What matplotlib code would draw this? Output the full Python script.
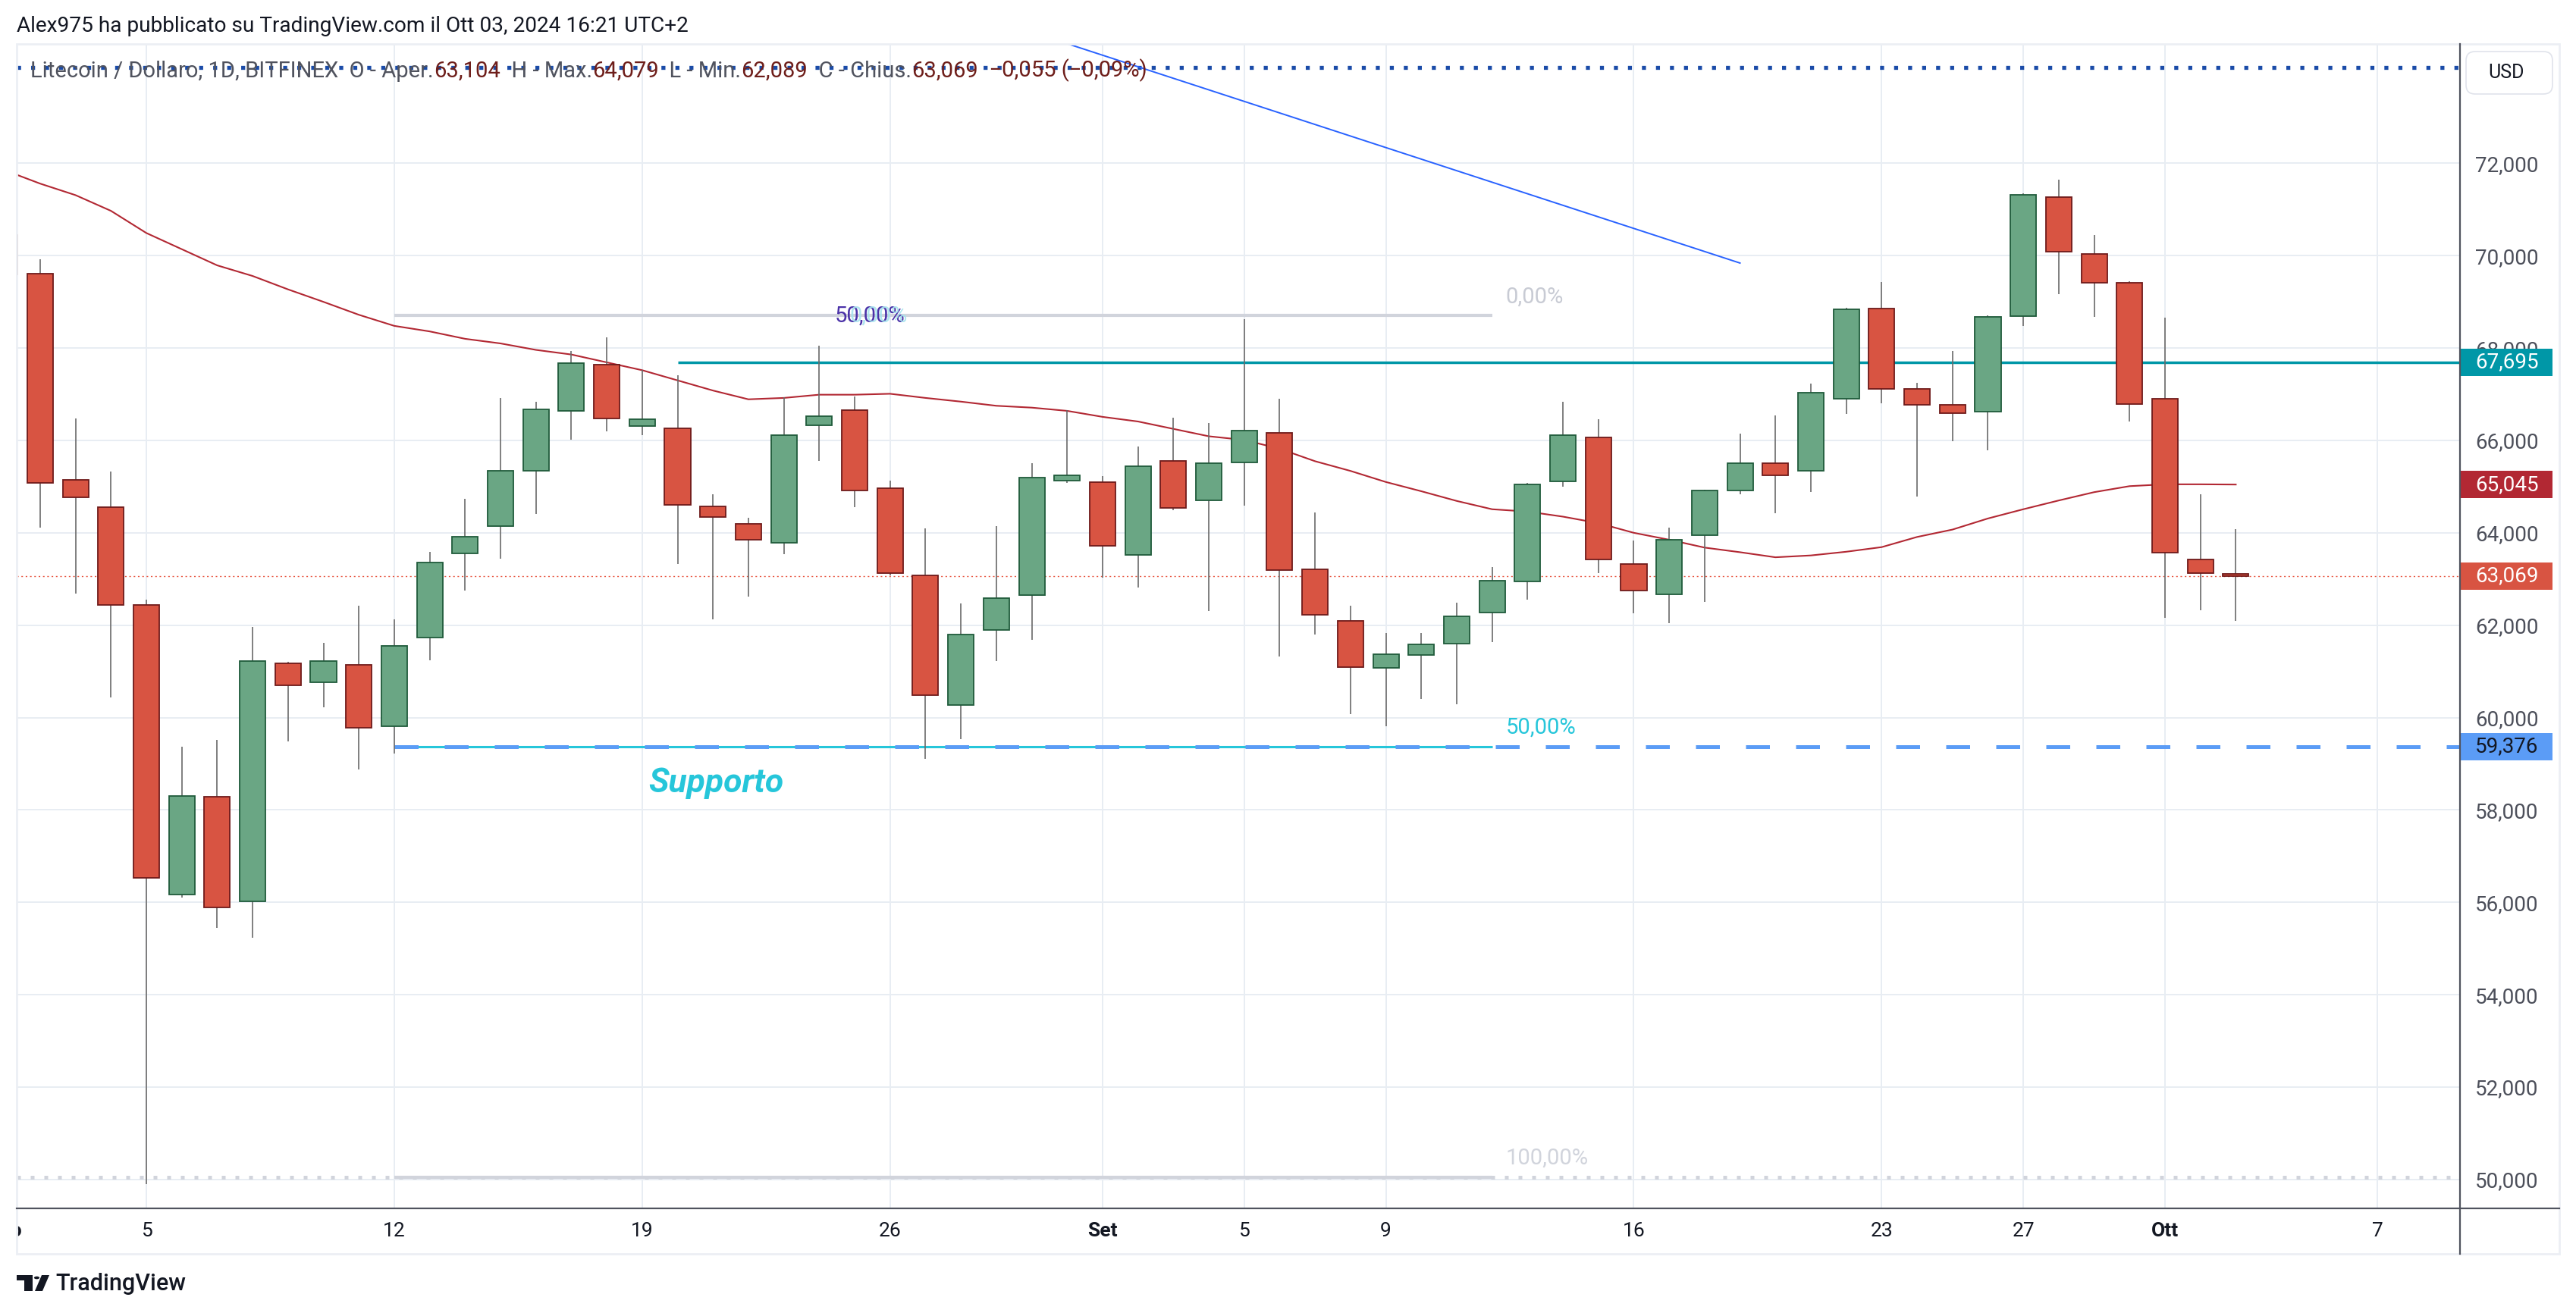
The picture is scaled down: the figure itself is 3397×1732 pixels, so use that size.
import numpy as np
import pandas as pd
import matplotlib
matplotlib.use('Agg')
import matplotlib.pyplot as plt
from matplotlib import transforms
from matplotlib.lines import Line2D
from matplotlib.patches import Rectangle, Polygon, Circle, FancyBboxPatch

W, H = 3397, 1732
plt.rcParams['font.family'] = ['Roboto', 'DejaVu Sans']

# ---- data (LTC/USD daily, Bitfinex) ----
dates = pd.date_range('2024-08-01', '2024-10-03', freq='D')
opens = [70.45, 69.61, 65.15, 64.55, 62.43, 56.17, 58.29, 56.02, 61.17, 60.77,
         61.14, 59.82, 61.74, 63.56, 64.14, 65.35, 66.64, 67.64, 66.31, 66.27,
         64.57, 64.19, 63.79, 66.32, 66.65, 64.96, 63.07, 60.27, 61.89, 62.65,
         65.13, 65.10, 63.52, 65.55, 64.70, 65.53, 66.16, 63.21, 62.10, 61.08,
         61.36, 61.60, 62.27, 62.94, 65.11, 66.07, 63.33, 62.67, 63.95, 64.92,
         65.50, 65.35, 66.90, 68.85, 67.11, 66.77, 66.63, 68.69, 71.27, 70.03,
         69.42, 66.91, 63.42, 63.104]
highs = [70.90, 69.93, 66.47, 65.33, 62.56, 59.37, 59.52, 61.96, 61.20, 61.62,
         62.42, 62.13, 63.58, 64.73, 66.92, 66.84, 67.94, 68.23, 67.53, 67.41,
         64.83, 64.32, 66.93, 68.05, 66.95, 65.13, 64.10, 62.47, 64.15, 65.50,
         66.66, 65.23, 65.86, 66.49, 66.37, 68.63, 66.90, 64.44, 62.42, 61.83,
         61.83, 62.49, 63.26, 65.08, 66.84, 66.46, 63.84, 64.11, 64.93, 66.15,
         66.54, 67.23, 68.87, 69.43, 67.24, 67.93, 68.70, 71.35, 71.64, 70.45,
         69.45, 68.66, 64.83, 64.079]
lows = [68.90, 64.11, 62.68, 60.44, 49.90, 56.10, 55.45, 55.24, 59.48, 60.23,
        58.88, 59.22, 61.24, 62.75, 63.44, 64.40, 66.02, 66.20, 66.11, 63.33,
        62.12, 62.62, 63.53, 65.55, 64.55, 63.07, 59.11, 59.53, 61.23, 61.69,
        65.08, 63.03, 62.82, 64.49, 62.30, 64.58, 61.33, 61.80, 60.08, 59.81,
        60.41, 60.28, 61.63, 62.55, 65.00, 63.13, 62.25, 62.05, 62.50, 64.83,
        64.43, 64.89, 66.58, 66.81, 64.79, 65.99, 65.78, 68.47, 69.16, 68.67,
        66.41, 62.16, 62.33, 62.089]
closes = [69.60, 65.08, 64.77, 62.43, 56.53, 58.31, 55.89, 61.22, 60.70, 61.23,
          59.78, 61.55, 63.36, 63.91, 65.35, 66.68, 67.67, 66.48, 66.46, 64.61,
          64.34, 63.85, 66.12, 66.53, 64.92, 63.13, 60.49, 61.80, 62.58, 65.19,
          65.25, 63.72, 65.44, 64.54, 65.50, 66.22, 63.20, 62.23, 61.10, 61.37,
          61.58, 62.20, 62.97, 65.04, 66.11, 63.42, 62.75, 63.85, 64.91, 65.50,
          65.24, 67.03, 68.84, 67.12, 66.77, 66.59, 68.68, 71.32, 70.09, 69.42,
          66.79, 63.57, 63.12, 63.069]
ma = [71.85, 71.56, 71.31, 70.97, 70.49, 70.14, 69.79, 69.56, 69.27, 69.00,
      68.72, 68.48, 68.36, 68.20, 68.10, 67.96, 67.86, 67.69, 67.52, 67.30,
      67.08, 66.89, 66.92, 66.99, 66.99, 67.01, 66.92, 66.84, 66.75, 66.71,
      66.64, 66.51, 66.41, 66.25, 66.09, 66.01, 65.82, 65.55, 65.34, 65.10,
      64.90, 64.69, 64.51, 64.46, 64.35, 64.21, 64.00, 63.85, 63.68, 63.58,
      63.47, 63.51, 63.59, 63.69, 63.91, 64.07, 64.31, 64.51, 64.70, 64.88,
      65.01, 65.05, 65.05, 65.045]

tick_dates = ['2024-08-01', '2024-08-05', '2024-08-12', '2024-08-19', '2024-08-26',
              '2024-09-01', '2024-09-05', '2024-09-09', '2024-09-16', '2024-09-23',
              '2024-09-27', '2024-10-01', '2024-10-07']
tick_labels = ['Ago', '5', '12', '19', '26', 'Set', '5', '9', '16', '23', '27', 'Ott', '7']
month_labels = {'Ago', 'Set', 'Ott'}
price_ticks = np.arange(50, 73, 2)

resistance = 67.695
last_close = 63.069
ma_last = 65.045
fib_high, fib_low = 68.70, 50.052
fib_start, fib_end = '2024-08-12', '2024-09-12'
res_start = '2024-08-20'
trend_dates = ['2024-08-29', '2024-09-19']
trend_prices = [75.09, 69.84]
top_line = 74.07

header = "Alex975 ha pubblicato su TradingView.com il Ott 03, 2024 16:21 UTC+2"
legend_parts = [("Litecoin / Dollaro, 1D, BITFINEX", 'g'), ("  O - Aper.", 'g'), ("63,104", 'r'),
                ("  H - Max.", 'g'), ("64,079", 'r'), ("  L - Min.", 'g'), ("62,089", 'r'),
                ("  C - Chius.", 'g'), ("63,069", 'r'), ("  \u22120,055 (\u22120,09%)", 'r')]

# ---- helpers ----
t0 = dates[0]
def dnum(s):
    return (pd.Timestamp(s) - t0).days

def fx(x):
    return x / W

def fy(y):
    return 1 - y / H

def fmt(v):
    return f"{v:.3f}".replace('.', ',')

x = np.array([(d - t0).days for d in dates])
o, h, l, c = map(np.array, (opens, highs, lows, closes))
up = c >= o

fig = plt.figure(figsize=(W / 100, H / 100), dpi=100)
fig.patch.set_facecolor('white')
ax = fig.add_axes([fx(22), fy(1594), (3244 - 22) / W, (1594 - 58) / H])
tax = fig.add_axes([fx(22), fy(1654), (3244 - 22) / W, (1654 - 1594) / H])
xlim = (0.338, 69.33)
ax.set_xlim(*xlim)
ax.set_ylim(49.374, 74.583)
tax.set_xlim(*xlim)
tax.set_ylim(0, 1)
tax.axis('off')
for s in ax.spines.values():
    s.set_visible(False)

grid_c = '#e8edf3'
for td in tick_dates:
    if xlim[0] < dnum(td) < xlim[1]:
        ax.axvline(dnum(td), color=grid_c, lw=1.4, zorder=0)
for p in price_ticks:
    ax.axhline(p, color=grid_c, lw=1.4, zorder=0)

# drawings behind candles
ax.axhline(top_line, color='#1a4ba8', lw=3.8, ls=(0, (1, 2.5)), zorder=1)
ax.axhline(fib_low, color='#d1d4dc', lw=3.6, ls=(0, (1, 2.6)), zorder=1)
ax.axhline(last_close, color='#e8533e', lw=1.0, ls=(0, (1.5, 2.6)), zorder=1)
fib_mid = (fib_high + fib_low) / 2
ax.hlines([fib_high, fib_low], dnum(fib_start), dnum(fib_end), color='#d1d4dc', lw=3, zorder=1.2)
ax.hlines(fib_mid, dnum(fib_start), dnum(fib_end), color='#26c6da', lw=2.2, zorder=1.2)
ax.hlines(fib_mid, dnum(fib_start), xlim[1], color='#5b9cf6', lw=3.6, ls=(0, (6.3, 6.9)), zorder=1.3)
ax.hlines(resistance, dnum(res_start), xlim[1], color='#0097a7', lw=2.5, zorder=1.4)
ax.plot([dnum(d) for d in trend_dates], trend_prices, color='#2962ff', lw=1.4, zorder=1.5)
ax.plot(x, ma, color='#b22833', lw=1.5, zorder=1.6)

# candles
ax.vlines(x, l, h, color='#6a6a6a', lw=1.2, zorder=2)
ax.bar(x[up], (c - o)[up], bottom=o[up], width=0.73, color='#6aa684',
       edgecolor='#1f5a3a', lw=1.3, zorder=3)
ax.bar(x[~up], (o - c)[~up], bottom=c[~up], width=0.73, color='#d85442',
       edgecolor='#6e1a1a', lw=1.3, zorder=3)

# fib labels
for lvl, txt, col in [(fib_high, '0,00%', '#c8cbd4'), (fib_mid, '50,00%', '#26c6da'),
                      (fib_low, '100,00%', '#d1d4dc')]:
    ax.annotate(txt, (dnum(fib_end), lvl), xytext=(13, 18), textcoords='offset points',
                ha='left', va='center', fontsize=21, color=col, zorder=5)
ax.text(23.44, 68.69, '50,00%', ha='left', va='center', fontsize=21, color='#4b32a8', zorder=5)
ax.text(23.85, 68.69, '0,00%', ha='left', va='center', fontsize=21, color='#a6e3ee',
        alpha=0.9, zorder=5.1)
ax.text(18.18, 58.58, 'Supporto', ha='left', va='center', fontsize=32, fontweight='bold',
        fontstyle='italic', color='#26c6da', zorder=5)

# price axis
ax.yaxis.tick_right()
ax.set_yticks(price_ticks)
ax.set_yticklabels([fmt(p) for p in price_ticks])
ax.tick_params(axis='y', length=0, pad=14.4, labelsize=20, labelcolor='#4c4f5a')
ax.set_xticks([])

trans = transforms.blended_transform_factory(fig.transFigure, ax.transData)
bh = 36 / 60.93
for v, fc, tc in [(resistance, '#0097a7', 'white'), (ma_last, '#b22833', 'white'),
                  (last_close, '#d85442', 'white'), (fib_mid, '#5b9cf6', '#131722')]:
    ax.add_patch(Rectangle((fx(3245), v - bh / 2), 121 / W, bh, transform=trans,
                           facecolor=fc, edgecolor='none', clip_on=False, zorder=10))
    ax.text(fx(3264), v, fmt(v), transform=trans, ha='left', va='center', fontsize=20,
            color=tc, clip_on=False, zorder=11)

# time axis labels
for td, lab in zip(tick_dates, tick_labels):
    tax.text(dnum(td), 0.5, lab, ha='center', va='center', fontsize=19, color='#131722',
             fontweight='bold' if lab in month_labels else 'normal', clip_on=True)

# frame and axis lines
fig.add_artist(Rectangle((fx(22), fy(1654)), (3375 - 22) / W, (1654 - 58) / H,
                         transform=fig.transFigure, fill=False, edgecolor='#eceff4', lw=2))
fig.add_artist(Line2D([fx(22), fx(3375)], [fy(1594)] * 2, color='#50535e', lw=1.6))
fig.add_artist(Line2D([fx(3244)] * 2, [fy(58), fy(1654)], color='#50535e', lw=1.6))

# USD box
fig.add_artist(FancyBboxPatch((fx(3252), fy(124)), 114 / W, 56 / H, transform=fig.transFigure,
                              boxstyle='round,pad=0,rounding_size=0.0035', mutation_aspect=W / H,
                              facecolor='white', edgecolor='#e0e3eb', lw=1.2))
fig.text(fx(3305), fy(96), 'USD', ha='center', va='center', fontsize=18, color='#131722')

# header + legend
fig.text(fx(22), fy(35), header, ha='left', va='center', fontsize=20.2, color='#131722')
prev = fig.text(fx(40), fy(94), legend_parts[0][0], ha='left', va='center', fontsize=21,
                color='#50535e')
for txt, kind in legend_parts[1:]:
    prev = ax.annotate(txt, xy=(1, 0), xycoords=prev, ha='left', va='bottom', fontsize=21,
                       color='#50535e' if kind == 'g' else '#6e1e1a', annotation_clip=False)

# TradingView logo
def P(px, py):
    return (fx(px), fy(py))

fig.add_artist(Polygon([P(22, 1682), P(43, 1682), P(43, 1703), P(32, 1703), P(32, 1689),
                        P(22, 1689)], closed=True, transform=fig.transFigure,
                       facecolor='#131722', edgecolor='none'))
fig.add_artist(Polygon([P(55, 1682), P(65, 1682), P(56, 1703), P(46, 1703)], closed=True,
                       transform=fig.transFigure, facecolor='#131722', edgecolor='none'))
fig.add_artist(Circle(P(48.5, 1685.5), 3.6 / W, transform=fig.transFigure,
                      facecolor='#131722', edgecolor='none'))
fig.text(fx(73), fy(1694), 'TradingView', ha='left', va='center', fontsize=22,
         fontweight='medium', color='#131722')

fig.savefig('out.png', dpi=100, facecolor='white')
